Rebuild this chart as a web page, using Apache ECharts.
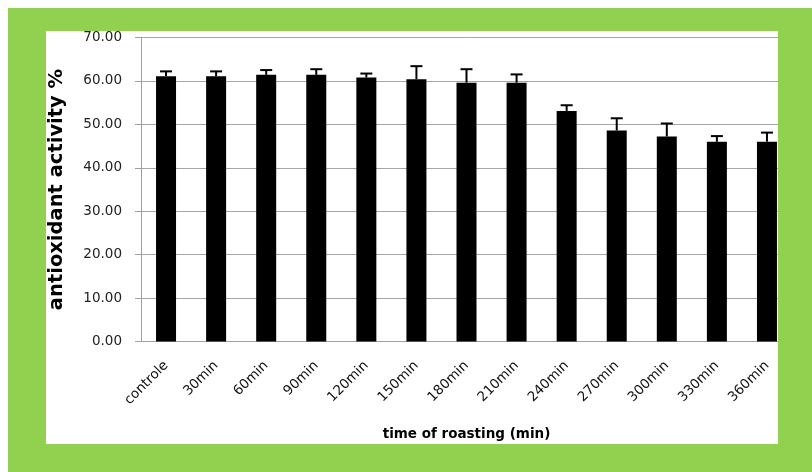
<!DOCTYPE html>
<html>
<head>
<meta charset="utf-8">
<script src="https://cdn.jsdelivr.net/npm/echarts@6/dist/echarts.min.js"></script>
<style>
html,body{margin:0;padding:0;background:#fff;}
#chart{width:812px;height:472px;}
</style>
</head>
<body>
<div id="chart"></div>
<script>
var categories = ['controle','30min','60min','90min','120min','150min','180min','210min','240min','270min','300min','330min','360min'];
var means = [61.1, 61.1, 61.4, 61.4, 60.8, 60.4, 59.6, 59.6, 53.1, 48.6, 47.2, 46.0, 46.0];
var errors = [1.1, 1.1, 1.1, 1.3, 0.9, 3.0, 3.1, 1.9, 1.3, 2.8, 3.0, 1.3, 2.1];
var yTicks = {min: 0, max: 70, interval: 10};

var errorData = categories.map(function (c, i) { return [i, means[i], means[i] + errors[i]]; });

var chart = echarts.init(document.getElementById('chart'), null, {renderer: 'canvas'});
var green = '#92d050';
var option = {
  backgroundColor: '#ffffff',
  animation: false,
  grid: {left: 141, right: 20, top: 37.5, bottom: 130.5, containLabel: false},
  xAxis: {
    type: 'category',
    data: categories,
    name: 'time of roasting (min)',
    nameLocation: 'middle',
    nameGap: 86,
    nameTextStyle: {fontFamily: 'DejaVu Sans', fontWeight: 'bold', fontSize: 13.5, color: '#000'},
    axisLine: {lineStyle: {color: '#a0a0a0', width: 1}},
    axisTick: {show: false},
    axisLabel: {rotate: 45, margin: 22, fontFamily: 'DejaVu Sans', fontSize: 13.5, color: '#111', interval: 0}
  },
  yAxis: {
    type: 'value',
    min: yTicks.min, max: yTicks.max, interval: yTicks.interval,
    name: 'antioxidant activity %',
    nameLocation: 'middle',
    nameGap: 74,
    nameTextStyle: {fontFamily: 'DejaVu Sans', fontWeight: 'bold', fontSize: 19.5, color: '#000'},
    axisLine: {show: true, lineStyle: {color: '#a0a0a0', width: 1}},
    axisTick: {show: true, inside: false, length: 6, lineStyle: {color: '#a0a0a0'}},
    axisLabel: {margin: 19, fontFamily: 'DejaVu Sans', fontSize: 13.5, color: '#222',
      formatter: function (v) { return v.toFixed(2); }},
    splitLine: {lineStyle: {color: '#a6a6a6', width: 1}}
  },
  series: [
    {
      type: 'bar',
      data: means,
      barWidth: 20,
      itemStyle: {color: '#000'}
    },
    {
      type: 'custom',
      data: errorData,
      z: 5,
      renderItem: function (params, api) {
        var x = api.value(0);
        var lo = api.coord([x, api.value(1)]);
        var hi = api.coord([x, api.value(2)]);
        var half = 6;
        return {
          type: 'group',
          children: [
            {type: 'line', shape: {x1: lo[0], y1: lo[1], x2: hi[0], y2: hi[1]}, style: {stroke: '#000', lineWidth: 2}},
            {type: 'line', shape: {x1: hi[0] - half, y1: hi[1], x2: hi[0] + half, y2: hi[1]}, style: {stroke: '#000', lineWidth: 2}}
          ]
        };
      }
    }
  ],
  graphic: [
    {type: 'rect', z: 100, shape: {x: 8, y: 8, width: 804, height: 23}, style: {fill: green}},
    {type: 'rect', z: 100, shape: {x: 8, y: 444, width: 804, height: 28}, style: {fill: green}},
    {type: 'rect', z: 100, shape: {x: 8, y: 31, width: 38, height: 413}, style: {fill: green}},
    {type: 'rect', z: 100, shape: {x: 778, y: 31, width: 34, height: 413}, style: {fill: green}}
  ]
};
chart.setOption(option);
</script>
</body>
</html>
